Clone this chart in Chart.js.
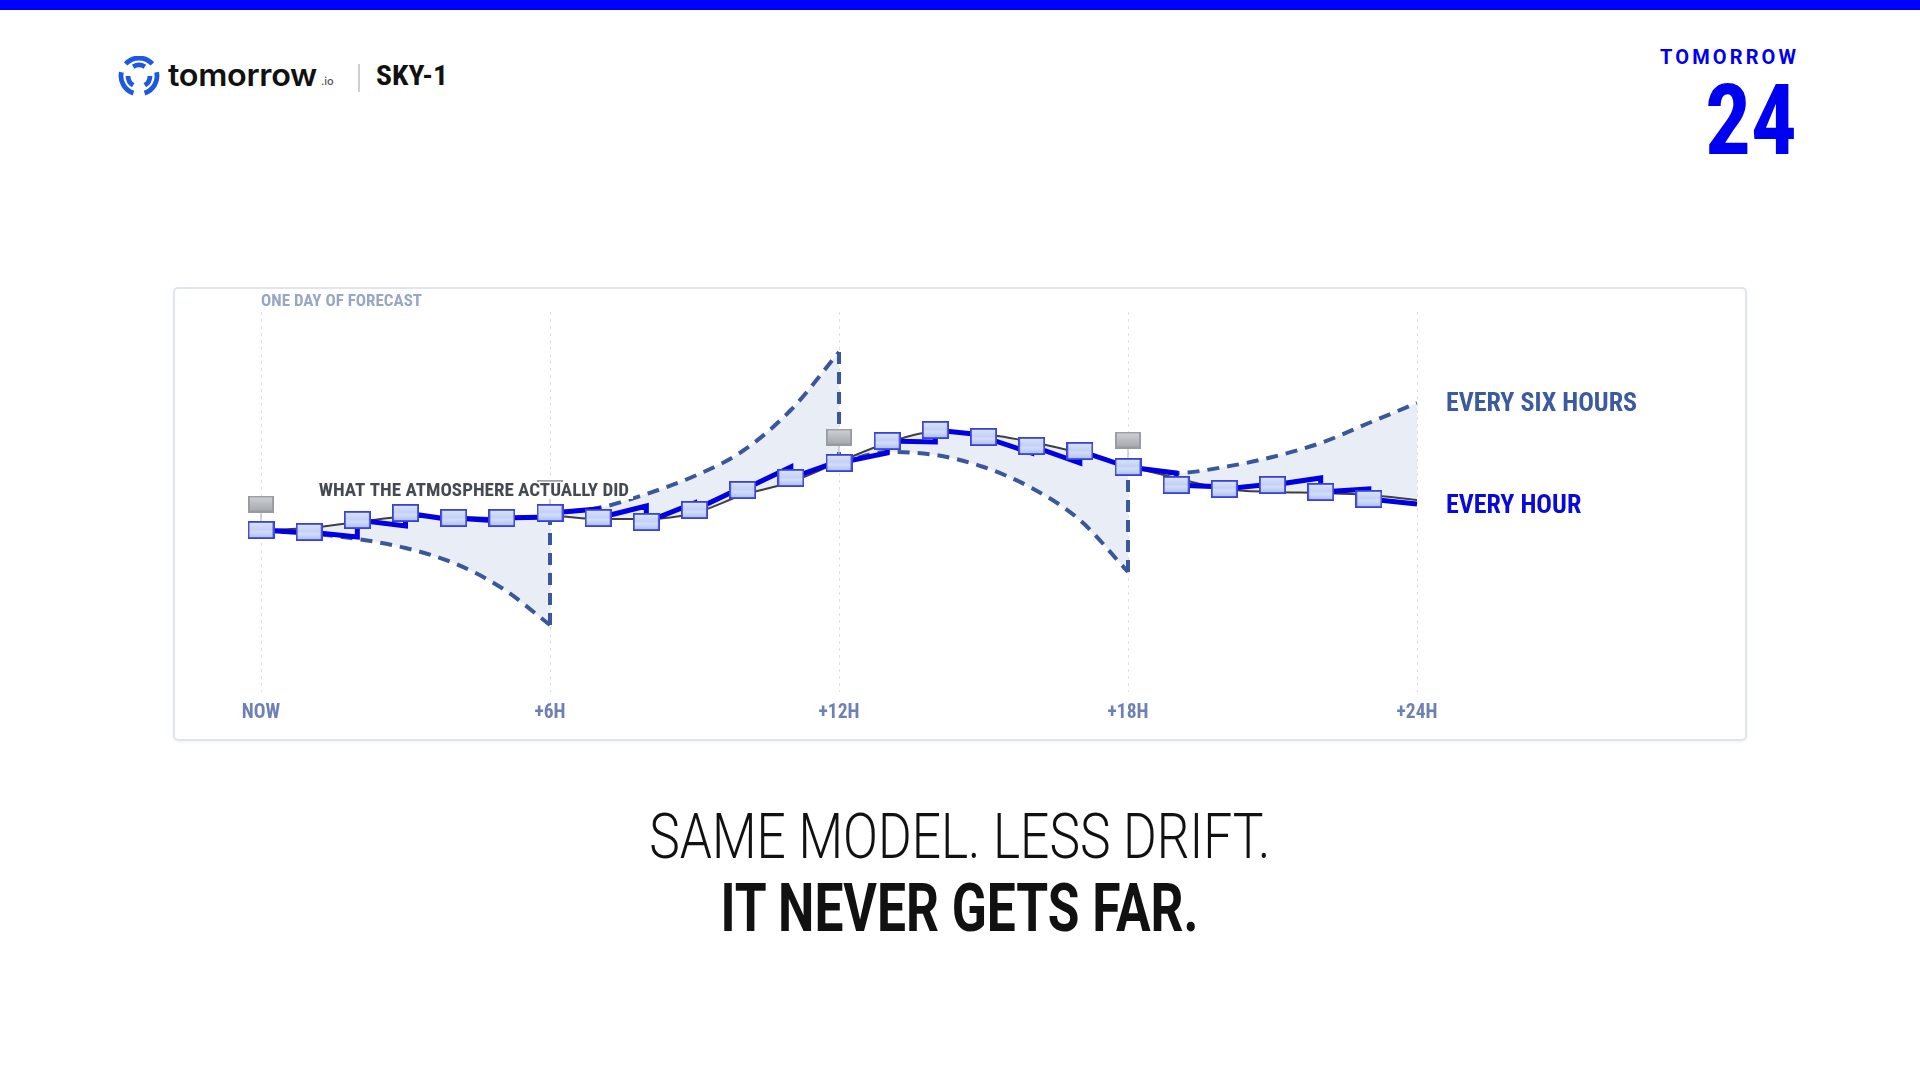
<!DOCTYPE html>
<html>
<head>
<meta charset="utf-8">
<script src="https://cdn.jsdelivr.net/npm/chart.js@4.4.1/dist/chart.umd.min.js"></script>
<style>
html,body{margin:0;padding:0;background:#fff;}
body{width:1920px;height:1080px;position:relative;overflow:hidden;font-family:Roboto,"Noto Sans",sans-serif;}
#topbar{position:absolute;left:0;top:0;width:1920px;height:10px;background:#0000ff;}
.t{position:absolute;white-space:nowrap;line-height:1;display:inline-block;}
.cond{font-family:"Roboto Condensed","Liberation Sans Narrow","DejaVu Sans Condensed",sans-serif;font-weight:700;}
#panel{position:absolute;left:173px;top:287px;width:1570px;height:450px;border:2px solid #dfe5ee;border-radius:5px;box-shadow:0 2px 3px rgba(120,140,170,0.08);}
#wrap{position:absolute;left:173px;top:287px;width:1574px;height:454px;}
#sep{position:absolute;left:358px;top:64px;width:2px;height:28px;background:#cfcfcf;}
</style>
</head>
<body>
<div id="topbar"></div>
<svg id="logo" width="42" height="40" style="position:absolute;left:118px;top:56px"></svg>
<div class="t" id="tomorrowTxt" style="left:168px;top:59px;font-family:Inter,sans-serif;font-weight:600;font-size:31px;color:#111;letter-spacing:-0.3px">tomorrow</div>
<div class="t" id="ioTxt" style="left:321px;top:76px;font-family:Inter,sans-serif;font-weight:500;font-size:11px;color:#555">.io</div>
<div id="sep"></div>
<div class="t cond" id="sky" style="left:376px;top:62px;font-size:28px;color:#111">SKY-1</div>
<div class="t" id="tmr" style="top:47px;font-family:Roboto,sans-serif;font-weight:700;font-size:20px;color:#0000ee">TOMORROW</div>
<div class="t cond" id="big24" style="top:72px;font-size:98px;color:#0000f0">24</div>
<div id="panel"></div>
<div id="wrap"><canvas id="chart" width="1574" height="454"></canvas></div>
<div class="t" id="h1" style="top:805px;font-family:Roboto,sans-serif;font-weight:300;font-size:63px;color:#111">SAME MODEL. LESS DRIFT.</div>
<div class="t" id="h2" style="top:876px;font-family:Roboto,sans-serif;font-weight:700;font-size:66px;color:#111">IT NEVER GETS FAR.</div>
<script>
// ---------- DATA ----------
const tickLabels = ['NOW', '+6H', '+12H', '+18H', '+24H'];
// what the atmosphere actually did, hours 0..24
const actual = [16.2,16.4,17.0,17.5,17.5,17.4,17.6,17.3,17.3,17.9,19.7,21.0,23.0,24.9,26.0,25.8,25.0,23.9,22.6,21.4,20.3,20.0,19.9,19.7,19.2];
// hourly run: value at issue hour i (0..23)
const hourlyStart = [16.2,16.0,17.2,17.9,17.4,17.4,17.9,17.4,17.0,18.2,20.2,21.4,22.9,25.1,26.2,25.5,24.6,24.1,22.5,20.7,20.3,20.7,20.0,19.3];
// hourly run: value one hour later (drift before next update)
const hourlyEnd = [15.9,15.5,16.6,17.2,17.1,17.5,18.3,18.6,18.9,20.5,22.5,23.1,23.9,25.0,25.7,23.9,22.9,22.5,21.9,20.5,20.8,21.4,20.3,18.8];
// six-hourly runs, issued at 0, 6, 12, 18 (7 hourly values each)
const run0 = [16.2,15.85,15.3,14.4,12.9,10.4,6.7];
const run6 = [17.9,18.4,19.8,21.6,24.1,28.2,34.0];
const run12 = [22.9,24.0,23.7,22.5,20.4,17.2,12.0];
const run18 = [22.5,21.9,22.5,23.5,24.9,26.9,28.9];
const sixHourlyRuns = [run0, run6, run12, run18];
// analysis points at 0, 6, 12, 18
const analysisHours = [0, 6, 12, 18];
const analysis = [18.8, 20.4, 25.5, 25.2];

// ---------- STYLE ----------
const COND = '"Roboto Condensed","Liberation Sans Narrow","DejaVu Sans Condensed",sans-serif';
const DASH_COLOR = '#3b579c';
const BLUE = '#0000e2';
const FILL = 'rgba(226,231,241,0.75)';

// logo
(function(){
  const svg = document.getElementById('logo');
  const cx=21, cy=20;
  function arc(r,a0,a1){const p=a=>[cx+r*Math.cos(a*Math.PI/180),cy+r*Math.sin(a*Math.PI/180)];const [x0,y0]=p(a0),[x1,y1]=p(a1);return `M${x0.toFixed(2)} ${y0.toFixed(2)} A${r} ${r} 0 ${(a1-a0)>180?1:0} 1 ${x1.toFixed(2)} ${y1.toFixed(2)}`;}
  const paths=[arc(18,222,318),arc(11,238,302),arc(18,348,72),arc(11,0,58),arc(18,108,192),arc(11,122,180)];
  svg.innerHTML = paths.map(d=>`<path d="${d}" stroke="#1d58e3" stroke-width="4.8" fill="none" stroke-linecap="butt"/>`).join('');
})();

function makeRect(w,h,stops,border){
  const c=document.createElement('canvas'); c.width=w; c.height=h;
  const g=c.getContext('2d'); const grd=g.createLinearGradient(0,0,0,h);
  stops.forEach(([o,col])=>grd.addColorStop(o,col));
  g.fillStyle=grd; g.fillRect(1,1,w-2,h-2);
  g.strokeStyle=border; g.lineWidth=1.8; g.strokeRect(0.9,0.9,w-1.8,h-1.8);
  return c;
}
const blueMark = makeRect(27,18,[[0,'#dfe7fc'],[0.45,'#c3d1f6'],[0.6,'#d3ddf9'],[1,'#a6b8ef']],'#3843d6');
const grayMark = makeRect(26,17,[[0,'#d2d4d8'],[0.5,'#b9bcc1'],[1,'#a2a5aa']],'#979aa0');

// build datasets from arrays
const markerPts = hourlyStart.map((v,i)=>({x:i,y:v}));
const hourlyLine = [];
hourlyStart.forEach((v,i)=>{hourlyLine.push({x:i,y:v}); hourlyLine.push({x:i+1,y:hourlyEnd[i]});});
const actualPts = actual.map((v,i)=>({x:i,y:v}));
const dashedPts = [];
sixHourlyRuns.forEach((run,r)=>{run.forEach((v,k)=>dashedPts.push({x:6*r+k,y:v})); if(r<sixHourlyRuns.length-1) dashedPts.push({x:6*r+6,y:null});});
const jumpPts = [];
for(let r=0;r<sixHourlyRuns.length-1;r++){const h=6*(r+1); jumpPts.push({x:h,y:sixHourlyRuns[r][6]},{x:h,y:sixHourlyRuns[r+1][0]},{x:h,y:null});}
const analysisPts = analysis.map((v,i)=>({x:analysisHours[i],y:v}));
const connPts = [];
analysis.forEach((v,i)=>{const h=analysisHours[i]; connPts.push({x:h,y:v},{x:h,y:hourlyStart[h]},{x:h,y:null});});

const annot = {
  id:'annot',
  afterDatasetsDraw(chart){
    const {ctx, chartArea, scales:{x,y}} = chart;
    ctx.save();
    ctx.textBaseline='middle'; ctx.textAlign='left';
    // header label
    ctx.font = `bold 17px ${COND}`; ctx.fillStyle = '#98a6c7';
    ctx.fillText('ONE DAY OF FORECAST', x.getPixelForValue(0), chartArea.top - 10);
    // atmosphere label with white box
    ctx.font = `bold 19px ${COND}`;
    const txt = 'WHAT THE ATMOSPHERE ACTUALLY DID';
    const tx = x.getPixelForValue(1.2), ty = y.getPixelForValue(20.2);
    const w = ctx.measureText(txt).width;
    ctx.fillStyle='#ffffff'; ctx.fillRect(tx-4, ty-8, w+8, 17);
    ctx.fillStyle='#454a52'; ctx.fillText(txt, tx, ty+1);
    // series end labels
    ctx.font = `bold 26px ${COND}`;
    ctx.fillStyle = '#3c5aa0';
    ctx.fillText('EVERY SIX HOURS', chartArea.right + 29, y.getPixelForValue(run18[run18.length-1]) + 1);
    ctx.fillStyle = '#0a0ad8';
    ctx.fillText('EVERY HOUR', chartArea.right + 29, y.getPixelForValue(hourlyEnd[hourlyEnd.length-1]) + 2);
    ctx.restore();
  }
};

new Chart(document.getElementById('chart'), {
  type:'line',
  data:{datasets:[
    {label:'Every hour markers', data:markerPts, showLine:false, pointStyle:blueMark, pointRadius:9, clip:false, order:0},
    {label:'Analysis', data:analysisPts, showLine:false, pointStyle:grayMark, pointRadius:9, clip:false, order:1},
    {label:'What the atmosphere actually did', data:actualPts, borderColor:'#3f3f42', borderWidth:2, pointRadius:0, tension:0.4, cubicInterpolationMode:'monotone', fill:false, order:3},
    {label:'Every hour', data:hourlyLine, borderColor:BLUE, borderWidth:5, pointRadius:0, tension:0, fill:false, borderJoinStyle:'miter', order:2},
    {label:'Analysis link', data:connPts, borderColor:'#b8bcc4', borderWidth:1.2, pointRadius:0, spanGaps:false, fill:false, clip:false, order:4},
    {label:'Six-hour update', data:jumpPts, borderColor:DASH_COLOR, borderWidth:4, borderDash:[12,8], pointRadius:0, spanGaps:false, fill:false, order:5},
    {label:'Every six hours', data:dashedPts, borderColor:DASH_COLOR, borderWidth:4, borderDash:[12,8], pointRadius:0, spanGaps:false, cubicInterpolationMode:'monotone', fill:{target:2, above:FILL, below:FILL}, order:6}
  ]},
  options:{
    responsive:false, animation:false, devicePixelRatio:1,
    layout:{padding:{left:88, right:330, top:25, bottom:0}},
    plugins:{legend:{display:false}, tooltip:{enabled:false}},
    scales:{
      x:{type:'linear', min:0, max:24,
         afterFit:(s)=>{s.height=49;},
         grid:{color:'#dde1e7', lineWidth:1, drawTicks:false},
         border:{display:false, dash:[3,4]},
         ticks:{stepSize:6, padding:9, color:'#6e81b3', font:{family:COND, size:19.5, weight:'bold'}, callback:(v)=>tickLabels[v/6]}},
      y:{display:false, min:0, max:38}
    }
  },
  plugins:[annot]
});

// fit header / headline text widths
function fit(id, width, anchor, anchorX){
  const el=document.getElementById(id);
  const w=el.getBoundingClientRect().width;
  const s=width/w;
  if(anchor==='left'){el.style.left=anchorX+'px'; el.style.transformOrigin='left top';}
  else if(anchor==='right'){el.style.left=(anchorX-w)+'px'; el.style.transformOrigin='right top';}
  else {el.style.left=(anchorX-w/2)+'px'; el.style.transformOrigin='center top';}
  el.style.transform=`scaleX(${s})`;
}
function spread(id, width, rightX){
  const el=document.getElementById(id);
  const n=el.textContent.length;
  const w=el.getBoundingClientRect().width;
  const ls=(width-w)/(n-1);
  el.style.letterSpacing=ls+'px';
  const w2=el.getBoundingClientRect().width;
  el.style.left=(rightX - w2 + ls)+'px';
}
fit('sky',72,'left',376);
fit('big24',92,'right',1797);
fit('h1',621,'center',960);
fit('h2',478,'center',959);
fit('tomorrowTxt',149,'left',168);
spread('tmr',136,1796);
</script>
</body>
</html>
